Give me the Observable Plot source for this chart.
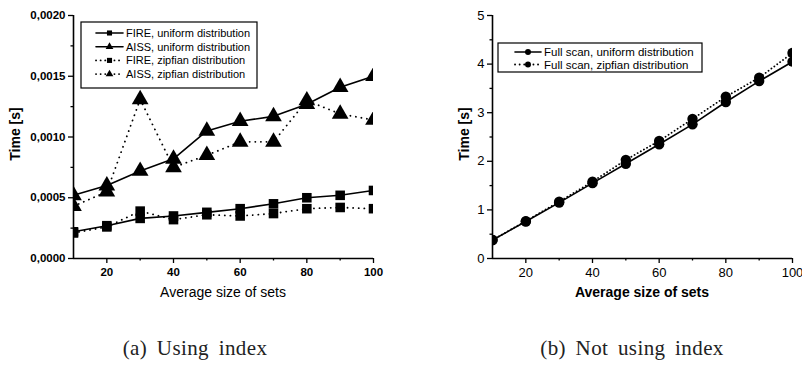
<!DOCTYPE html>
<html><head><meta charset="utf-8">
<script src="https://cdn.jsdelivr.net/npm/d3@7"></script>
<script src="https://cdn.jsdelivr.net/npm/@observablehq/plot@0.6"></script>
<style>
body{margin:0;background:#fff;width:802px;height:365px;overflow:hidden;position:relative;font-family:Arial,"Liberation Sans",sans-serif}
.panel{position:absolute;top:0}
.cap{position:absolute;top:338px;font-family:"Liberation Serif","Times New Roman",serif;font-size:21px;letter-spacing:0.4px;word-spacing:4px;color:#222;transform:translateX(-50%);white-space:nowrap;line-height:1}
</style></head><body>
<div id="left" class="panel" style="left:0"></div>
<div id="right" class="panel" style="left:401px"></div>
<div class="cap" style="left:195px">(a) Using index</div>
<div class="cap" style="left:632px">(b) Not using index</div>
<script>
const sizes = [10,20,30,40,50,60,70,80,90,100];
const fireUniform = [0.00022,0.00027,0.00033,0.00035,0.00038,0.00041,0.00045,0.00050,0.00052,0.00056];
const aissUniform = [0.00052,0.00060,0.00072,0.00082,0.00105,0.00113,0.00117,0.00127,0.00141,0.00150];
const fireZipf = [0.00021,0.00026,0.00039,0.00032,0.00036,0.00035,0.00037,0.00041,0.00042,0.00041];
const aissZipf = [0.00043,0.00055,0.00131,0.00075,0.00085,0.00096,0.00096,0.00130,0.00119,0.00114];
const scanUniform = [0.38,0.76,1.15,1.55,1.95,2.35,2.76,3.22,3.65,4.05];
const scanZipf = [0.38,0.77,1.17,1.58,2.03,2.42,2.87,3.33,3.72,4.23];

const leftSeries = [
  {name:"FIRE, uniform distribution", values:fireUniform, symbol:"square", dash:null},
  {name:"AISS, uniform distribution", values:aissUniform, symbol:"triangle", dash:null},
  {name:"FIRE, zipfian distribution", values:fireZipf, symbol:"square", dash:"0.1,5.5"},
  {name:"AISS, zipfian distribution", values:aissZipf, symbol:"triangle", dash:"0.1,5.5"}
];
const rightSeries = [
  {name:"Full scan, uniform distribution", values:scanUniform, symbol:"circle", dash:null},
  {name:"Full scan, zipfian distribution", values:scanZipf, symbol:"circle", dash:"0.1,3.5"}
];
const leftYTicks = [0,0.0005,0.0010,0.0015,0.0020];
const leftYMinor = [0.00025,0.00075,0.00125,0.00175];
const rightYTicks = [0,1,2,3,4,5];
const rightYMinor = [0.5,1.5,2.5,3.5,4.5];
const xTicks = [20,40,60,80,100];
const xMinor = [30,50,70,90];

function symR(sym){ return sym==="square" ? 5.4 : sym==="triangle" ? 6.2 : 5.2; }

function makeChart(opts){
  const {series, yDomain, yTicks, yMinor, yFmt, tickFont, tickWeight, ml, mr} = opts;
  const marks = [];
  series.forEach(s=>{
    const data = sizes.map((x,i)=>({x, y:s.values[i]}));
    marks.push(Plot.line(data,{x:"x",y:"y",stroke:"black",strokeWidth:s.dash?1.8:1.6,strokeDasharray:s.dash,strokeLinecap:"round", clip:true}));
    marks.push(Plot.dot(data,{x:"x",y:"y",symbol:()=>s.symbol,fill:"black",stroke:"none",r:symR(s.symbol),clip:true}));
  });
  marks.push(Plot.axisY(yMinor,{tickSize:2.5,text:null,strokeWidth:1.3,label:null}));
  marks.push(Plot.axisY(yTicks,{tickSize:5,tickFormat:yFmt,strokeWidth:1.3,fontSize:tickFont,fontWeight:tickWeight,fill:"black",tickPadding:3,label:null}));
  marks.push(Plot.axisX(xMinor,{tickSize:2.5,text:null,strokeWidth:1.3,label:null}));
  marks.push(Plot.axisX(xTicks,{tickSize:5,strokeWidth:1.3,fontSize:tickFont,fontWeight:tickWeight,fill:"black",tickPadding:4,label:null}));
  marks.push(Plot.ruleX([10],{strokeWidth:1.6}));
  marks.push(Plot.ruleY([yDomain[0]],{strokeWidth:1.6}));
  return Plot.plot({
    width:401, height:300,
    marginLeft:ml, marginRight:mr, marginTop:15, marginBottom:42,
    style:{fontFamily:"Arial, 'Liberation Sans', sans-serif", background:"white", color:"black"},
    x:{domain:[10,100], label:null},
    y:{domain:yDomain, label:null},
    symbol:{type:"identity"},
    marks
  });
}

function addLabels(svg, opts){
  const s = d3.select(svg);
  s.append("text").attr("x", opts.xlx).attr("y", 297).attr("text-anchor","middle")
    .attr("font-size",14).attr("font-weight",opts.xLabelWeight).attr("fill","black").text("Average size of sets");
  s.append("text").attr("transform",`translate(${opts.ylx},134) rotate(-90)`).attr("text-anchor","middle")
    .attr("dominant-baseline","middle").attr("font-size",14).attr("font-weight","bold").attr("fill","black").text("Time [s]");
}

function addLegend(svg, series, box){
  const s = d3.select(svg);
  const g = s.append("g").attr("text-anchor","start");
  g.append("rect").attr("x",box.x).attr("y",box.y).attr("width",box.w).attr("height",box.h)
    .attr("fill","white").attr("stroke","black").attr("stroke-width",1.2);
  series.forEach((se,i)=>{
    const y = box.y + box.first + i*box.step;
    g.append("line").attr("x1",box.lx1).attr("x2",box.lx2).attr("y1",y).attr("y2",y)
      .attr("stroke","black").attr("stroke-width",se.dash?1.8:1.6).attr("stroke-linecap","round")
      .attr("stroke-dasharray",se.dash ? "0.1,4.5" : null);
    const sym = se.symbol==="square" ? d3.symbolSquare : se.symbol==="triangle" ? d3.symbolTriangle : d3.symbolCircle;
    const size = se.symbol==="circle" ? 28 : 26;
    g.append("path").attr("d", d3.symbol(sym, size)()).attr("transform",`translate(${(box.lx1+box.lx2)/2},${y})`).attr("fill","black");
    g.append("text").attr("x",box.tx).attr("y",y).attr("dy","0.35em").attr("text-anchor","start")
      .attr("font-size",box.fs).attr("fill","black").text(se.name);
  });
}

const fmtL = d => d.toFixed(4).replace(".", ",");
const left = makeChart({series:leftSeries, yDomain:[0,0.002], yTicks:leftYTicks, yMinor:leftYMinor, yFmt:fmtL, tickFont:11.5, tickWeight:"bold", ml:73, mr:28});
addLabels(left,{xlx:223, ylx:16, xLabelWeight:"normal"});
addLegend(left, leftSeries, {x:81,y:22,w:176,h:66,first:11,step:13.7,lx1:96,lx2:123,tx:126,fs:11});
document.getElementById("left").append(left);

const right = makeChart({series:rightSeries, yDomain:[0,5], yTicks:rightYTicks, yMinor:rightYMinor, yFmt:d=>String(d), tickFont:13, tickWeight:"normal", ml:91, mr:10});
addLabels(right,{xlx:241, ylx:64, xLabelWeight:"bold"});
addLegend(right, rightSeries, {x:97,y:43,w:204,h:29,first:9,step:12.5,lx1:114,lx2:140,tx:143,fs:11.5});
document.getElementById("right").append(right);
</script>
</body></html>
